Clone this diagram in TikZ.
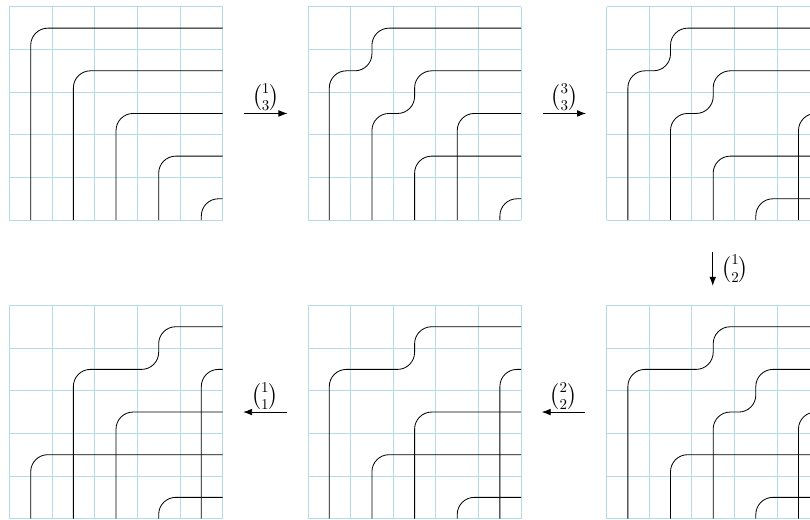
\documentclass[tikz,border=0pt]{standalone}
\usepackage{amsmath}
\usetikzlibrary{arrows.meta}
\definecolor{gridblue}{RGB}{180,220,232}
\tikzset{
  gridline/.style={draw=gridblue, line width=0.6pt},
  pipe/.style={draw=black, line width=0.55pt, rounded corners=0.4cm},
  movearrow/.style={-{Latex[length=6pt,width=4.5pt]}, line width=0.55pt},
  movelabel/.style={inner sep=1.5pt, font=\Large}
}
\begin{document}
\begin{tikzpicture}
\useasboundingbox (0,0) rectangle (18.99,-12.17);
\clip (0,0) rectangle (18.99,-12.17);
% Panel 1
\begin{scope}[shift={(0.22,-0.16)}, yscale=-1]
  \draw[gridline] (0,0) grid (5,5);
  \draw[pipe] (0.5,5) |- (5,0.5);
  \draw[pipe] (1.5,5) |- (5,1.5);
  \draw[pipe] (2.5,5) |- (5,2.5);
  \draw[pipe] (3.5,5) |- (5,3.5);
  \draw[pipe] (4.5,5) |- (5,4.5);
\end{scope}
% Panel 2
\begin{scope}[shift={(7.22,-0.16)}, yscale=-1]
  \draw[gridline] (0,0) grid (5,5);
  \draw[pipe] (0.5,5) -- (0.5,1.5) -- (1.5,1.5) -- (1.5,0.5) -- (5,0.5);
  \draw[pipe] (1.5,5) -- (1.5,2.5) -- (2.5,2.5) -- (2.5,1.5) -- (5,1.5);
  \draw[pipe] (3.5,5) |- (5,2.5);
  \draw[pipe] (2.5,5) |- (5,3.5);
  \draw[pipe] (4.5,5) |- (5,4.5);
\end{scope}
% Panel 3
\begin{scope}[shift={(14.22,-0.16)}, yscale=-1]
  \draw[gridline] (0,0) grid (5,5);
  \draw[pipe] (0.5,5) -- (0.5,1.5) -- (1.5,1.5) -- (1.5,0.5) -- (5,0.5);
  \draw[pipe] (1.5,5) -- (1.5,2.5) -- (2.5,2.5) -- (2.5,1.5) -- (5,1.5);
  \draw[pipe] (2.5,5) |- (5,3.5);
  \draw[pipe] (3.5,5) |- (5,4.5);
  \draw[pipe] (4.5,5) |- (5,2.5);
\end{scope}
% Panel 4
\begin{scope}[shift={(14.22,-7.16)}, yscale=-1]
  \draw[gridline] (0,0) grid (5,5);
  \draw[pipe] (0.5,5) -- (0.5,1.5) -- (2.5,1.5) -- (2.5,0.5) -- (5,0.5);
  \draw[pipe] (2.5,5) -- (2.5,2.5) -- (3.5,2.5) -- (3.5,1.5) -- (5,1.5);
  \draw[pipe] (1.5,5) |- (5,3.5);
  \draw[pipe] (3.5,5) |- (5,4.5);
  \draw[pipe] (4.5,5) |- (5,2.5);
\end{scope}
% Panel 5
\begin{scope}[shift={(7.22,-7.16)}, yscale=-1]
  \draw[gridline] (0,0) grid (5,5);
  \draw[pipe] (0.5,5) -- (0.5,1.5) -- (2.5,1.5) -- (2.5,0.5) -- (5,0.5);
  \draw[pipe] (2.5,5) |- (5,2.5);
  \draw[pipe] (1.5,5) |- (5,3.5);
  \draw[pipe] (3.5,5) |- (5,4.5);
  \draw[pipe] (4.5,5) |- (5,1.5);
\end{scope}
% Panel 6
\begin{scope}[shift={(0.22,-7.16)}, yscale=-1]
  \draw[gridline] (0,0) grid (5,5);
  \draw[pipe] (1.5,5) -- (1.5,1.5) -- (3.5,1.5) -- (3.5,0.5) -- (5,0.5);
  \draw[pipe] (2.5,5) |- (5,2.5);
  \draw[pipe] (0.5,5) |- (5,3.5);
  \draw[pipe] (3.5,5) |- (5,4.5);
  \draw[pipe] (4.5,5) |- (5,1.5);
\end{scope}
% Arrows
\coordinate (a1s) at (5.72,-2.66);
\coordinate (a1e) at (6.74,-2.66);
\coordinate (a2s) at (12.72,-2.66);
\coordinate (a2e) at (13.74,-2.66);
\coordinate (a3s) at (16.71,-5.90);
\coordinate (a3e) at (16.71,-6.70);
\coordinate (a4s) at (13.72,-9.66);
\coordinate (a4e) at (12.70,-9.66);
\coordinate (a5s) at (6.72,-9.66);
\coordinate (a5e) at (5.70,-9.66);
\draw[movearrow] (a1s) -- node[above, movelabel] (l1) {$\binom{1}{3}$} (a1e);
\draw[movearrow] (a2s) -- node[above, movelabel] (l2) {$\binom{3}{3}$} (a2e);
\draw[movearrow] (a3s) -- node[right, movelabel, xshift=4pt] (l3) {$\binom{1}{2}$} (a3e);
\draw[movearrow] (a4s) -- node[above, movelabel] (l4) {$\binom{2}{2}$} (a4e);
\draw[movearrow] (a5s) -- node[above, movelabel] (l5) {$\binom{1}{1}$} (a5e);
\end{tikzpicture}
\end{document}
